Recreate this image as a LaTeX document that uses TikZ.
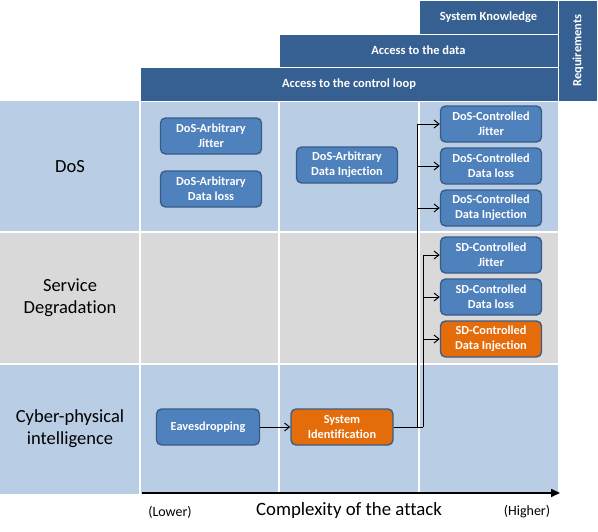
\documentclass[tikz,border=0pt]{standalone}
\usepackage{fontspec}
\setmainfont[Ligatures=CommonOff]{Carlito}
\usetikzlibrary{arrows.meta}
\definecolor{rowblue}{HTML}{B9CDE5}
\definecolor{rowgray}{HTML}{D9D9D9}
\definecolor{hdr}{HTML}{366092}
\definecolor{nodeblue}{HTML}{4F81BD}
\definecolor{nodeborder}{HTML}{385D8A}
\definecolor{nodeorange}{HTML}{E46C0A}
\tikzset{
  hdrbar/.style={fill=hdr, draw=white, line width=0.6pt},
  hdrtext/.style={text=white, font=\fontsize{12.5}{14}\selectfont\bfseries},
  attack/.style={draw=nodeborder, line width=1.4pt, fill=nodeblue, rounded corners=5pt,
     minimum width=101pt, minimum height=36pt, text=white, align=center, inner sep=1pt,
     font=\fontsize{12.3}{15}\selectfont\bfseries},
  attackor/.style={attack, fill=nodeorange},
  rowlabel/.style={align=center, font=\fontsize{18.5}{22}\selectfont},
  conn/.style={draw=black, line width=1pt, -{Straight Barb[length=5pt,width=8pt]}},
  plain/.style={draw=black, line width=1pt},
}
\begin{document}
\begin{tikzpicture}[x=1pt,y=-1pt]
\useasboundingbox (0,0) rectangle (598,531);
% rows
\fill[rowblue] (0,101) rectangle (558,232);
\fill[rowgray] (0,232) rectangle (558,364);
\fill[rowblue] (0,364) rectangle (558,494);
\foreach \x in {140,279,419} \draw[white, line width=1.2pt] (\x,101) -- (\x,494);
\foreach \y in {232,364} \draw[white, line width=1.2pt] (0,\y) -- (558,\y);
% headers
\draw[hdrbar] (419,0) rectangle (558,34);
\draw[hdrbar] (279,34) rectangle (558,67);
\draw[hdrbar] (140,67) rectangle (558,101);
\draw[hdrbar] (558,0) rectangle (597,101);
\node[hdrtext] (hsk) at (488.5,17) {System Knowledge};
\node[hdrtext] (had) at (418.5,50.5) {Access to the data};
\node[hdrtext] (hcl) at (349,84.5) {Access to the control loop};
\node[hdrtext, rotate=90] (hreq) at (578,50.5) {Requirements};
% row labels
\node[rowlabel] (ldos) at (70,167) {DoS};
\node[rowlabel] (lsd) at (70,298) {Service\\Degradation};
\node[rowlabel] (lcp) at (70,429) {Cyber-physical\\intelligence};
% attack nodes
\node[attack] (daj) at (211,136) {DoS-Arbitrary\\Jitter};
\node[attack] (dal) at (211,189) {DoS-Arbitrary\\Data loss};
\node[attack] (dai) at (347,165) {DoS-Arbitrary\\Data Injection};
\node[attack] (dcj) at (491,124) {DoS-Controlled\\Jitter};
\node[attack] (dcl) at (491,166) {DoS-Controlled\\Data loss};
\node[attack] (dci) at (491,208) {DoS-Controlled\\Data Injection};
\node[attack] (scj) at (491,255) {SD-Controlled\\Jitter};
\node[attack] (scl) at (491,297) {SD-Controlled\\Data loss};
\node[attackor] (sci) at (491,339) {SD-Controlled\\Data Injection};
\node[attack, minimum width=103pt] (eav) at (208,427) {Eavesdropping};
\node[attackor, minimum width=102pt] (sid) at (342,427) {System\\Identification};
% connectors
\coordinate (ja) at (417,427);
\coordinate (jb) at (423,427);
\draw[conn] (eav) -- (sid);
\draw[plain] (sid.east) -- (jb);
\draw[conn] (ja) -- (ja |- dcj) -- (dcj);
\draw[conn] (ja |- dcl) -- (dcl);
\draw[conn] (ja |- dci) -- (dci);
\draw[conn] (jb) -- (jb |- scj) -- (scj);
\draw[conn] (jb |- scl) -- (scl);
\draw[conn] (jb |- sci) -- (sci);
% axis
\coordinate (ax0) at (142,493);
\coordinate (ax1) at (560,493);
\draw[line width=1.6pt, -{Triangle[length=9pt,width=8pt]}] (ax0) -- (ax1);
\node[font=\fontsize{14}{16}\selectfont] (low) at (170,512) {(Lower)};
\node[font=\fontsize{18.8}{22}\selectfont] (cx) at (349,510) {Complexity of the attack};
\node[font=\fontsize{14}{16}\selectfont] (high) at (527,512) {(Higher)};
\end{tikzpicture}
\end{document}
